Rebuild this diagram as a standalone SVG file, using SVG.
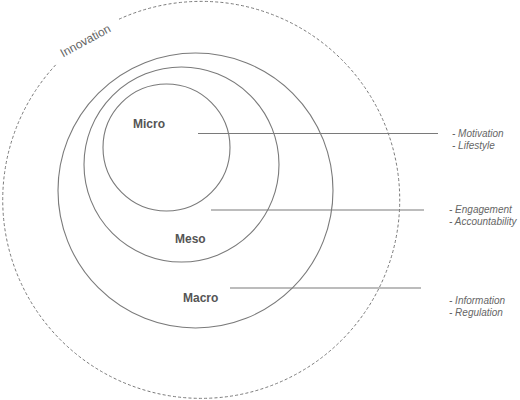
<svg xmlns="http://www.w3.org/2000/svg" width="520" height="400" viewBox="0 0 520 400">
<style>
.ring{fill:none;stroke:#7a7a7a;stroke-width:1.1}
.dash{fill:none;stroke:#7a7a7a;stroke-width:1;stroke-dasharray:3 2.2}
.conn{stroke:#7a7a7a;stroke-width:1.2}
.lvl{font-family:"Liberation Sans",Arial,sans-serif;font-size:12px;font-weight:bold;fill:#555}
.item{font-family:"Liberation Sans",Arial,sans-serif;font-size:10px;font-style:italic;fill:#666}
.inn{font-family:"Liberation Sans",Arial,sans-serif;font-size:12px;fill:#666}
</style>
<rect width="520" height="400" fill="#fff"/>
<g id="innovation">
<path class="dash" d="M119,19.2 A198.5,198.5 0 1 1 56.7,63.8"/>
<text class="inn" transform="translate(63,57.5) rotate(-28.5)">Innovation</text>
</g>
<g id="macro">
<circle class="ring" cx="195.5" cy="190.5" r="137.5"/>
<text class="lvl" x="183" y="302">Macro</text>
</g>
<g id="meso">
<circle class="ring" cx="181.5" cy="164.5" r="97.5"/>
<text class="lvl" x="175" y="242.5">Meso</text>
</g>
<g id="micro">
<circle class="ring" cx="166.5" cy="147.5" r="63.5"/>
<text class="lvl" x="133" y="127.5">Micro</text>
</g>
<g id="connectors">
<line class="conn" x1="198" y1="133.5" x2="438" y2="133.5"/>
<line class="conn" x1="211" y1="210" x2="424" y2="210"/>
<line class="conn" x1="230" y1="288" x2="421" y2="288"/>
</g>
<g id="micro-items">
<text class="item" x="452" y="137">- Motivation</text>
<text class="item" x="452" y="148.5">- Lifestyle</text>
</g>
<g id="meso-items">
<text class="item" x="449" y="213">- Engagement</text>
<text class="item" x="449" y="224.5">- Accountability</text>
</g>
<g id="macro-items">
<text class="item" x="449" y="304">- Information</text>
<text class="item" x="449" y="316">- Regulation</text>
</g>
</svg>
